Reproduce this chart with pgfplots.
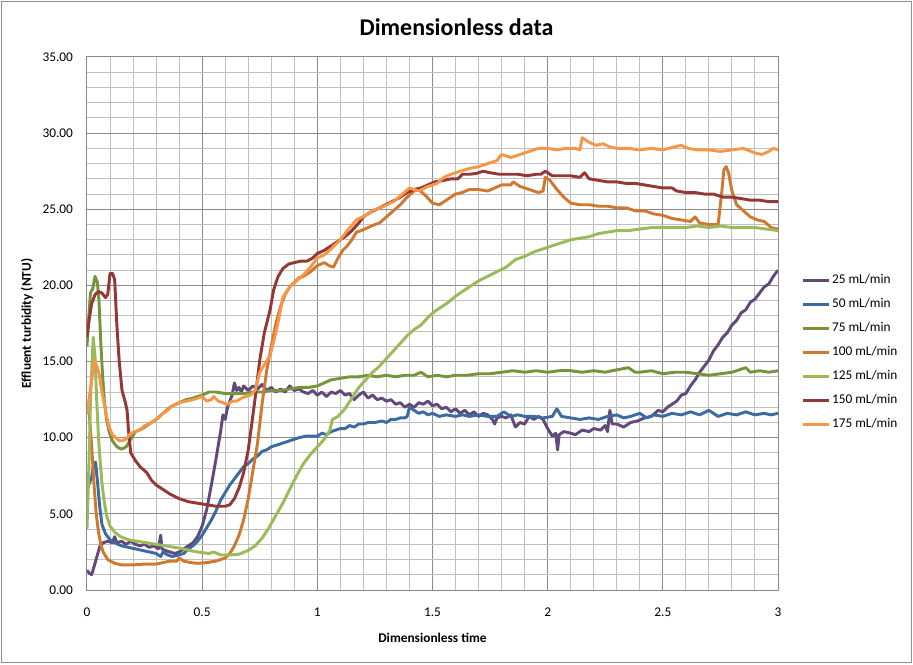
\documentclass[border=0pt]{standalone}
\usepackage{fontspec}
\setmainfont{Carlito}
\usepackage{pgfplots}
\pgfplotsset{compat=1.18}
\definecolor{c25}{HTML}{604A7B}
\definecolor{c50}{HTML}{3B6BA0}
\definecolor{c75}{HTML}{77933C}
\definecolor{c100}{HTML}{D0782F}
\definecolor{c125}{HTML}{9BBB59}
\definecolor{c150}{HTML}{953735}
\definecolor{c175}{HTML}{F79646}
\definecolor{gmaj}{HTML}{8A8A8A}
\definecolor{gmin}{HTML}{C0C0C0}
\definecolor{frame}{HTML}{8F8F8F}
\begin{document}
\begin{tikzpicture}[x=1pt,y=1pt]
\path[use as bounding box] (0,0) rectangle (684.75,498);
\draw[frame, line width=0.75pt] (1.2,1.2) rectangle (683.55,496.8);
\node[font=\bfseries\fontsize{18}{21}\selectfont] at (342.4,477.75) {Dimensionless data};
\begin{axis}[
  at={(65.25pt,55.5pt)}, anchor=south west,
  scale only axis, width=518.25pt, height=399.75pt,
  xmin=0, xmax=3, ymin=0, ymax=35,
  xtick={0,0.5,1,1.5,2,2.5,3},
  ytick={0,5,10,15,20,25,30,35},
  minor x tick num=4, minor y tick num=4,
  grid=both,
  major grid style={gmaj, line width=0.75pt},
  minor grid style={gmin, line width=0.75pt},
  axis line style={gmaj, line width=0.75pt},
  major tick length=0pt, minor tick length=0pt,
  /pgf/number format/assume math mode=true,
  ticklabel style={font=\fontsize{10}{12}\selectfont},
  yticklabel style={/pgf/number format/.cd, fixed, fixed zerofill, precision=2, /tikz/.cd, xshift=-7pt},
  xticklabel style={yshift=-10pt},
  xlabel={Dimensionless time},
  ylabel={Effluent turbidity (NTU)},
  label style={font=\bfseries\fontsize{10}{12}\selectfont},
  xlabel style={at={(axis description cs:0.5,-0.0891)}, anchor=center},
  ylabel style={at={(axis description cs:-0.0868,0.5)}, anchor=center, rotate=0},
  every axis plot/.append style={line width=2.2pt, line join=round, no markers},
  legend cell align=left,
  legend image code/.code={\draw[#1] (0pt,0pt) -- (19.5pt,0pt);},
  legend style={draw=none, fill=none, at={(rel axis cs:1.034,0.5954)}, anchor=north west,
    font=\fontsize{10}{12}\selectfont, row sep=7pt, column sep=0pt, inner sep=0pt,
    nodes={inner sep=1pt, text height=7pt, text depth=2pt}},
]
% 25 mL/min
\addplot[c25] coordinates {(0,1.3) (0.01,1.1) (0.02,1.0) (0.03,1.5) (0.045,2.3) (0.057,2.9) (0.07,3.1) (0.09,3.2) (0.11,3.1) (0.12,3.5) (0.13,3.1) (0.15,3.2) (0.17,3.0) (0.19,3.2) (0.21,3.0) (0.23,2.9) (0.25,3.0) (0.27,2.8) (0.29,2.9) (0.31,2.7) (0.32,3.6) (0.325,2.7) (0.34,2.6) (0.36,2.5) (0.38,2.4) (0.40,2.5) (0.42,2.7) (0.44,2.9) (0.46,3.1) (0.48,3.5) (0.50,4.2) (0.52,5.3) (0.54,6.9) (0.56,8.6) (0.58,10.4) (0.59,11.5) (0.60,11.2) (0.61,12.0) (0.62,12.4) (0.63,12.8) (0.64,13.6) (0.65,13.1) (0.66,13.3) (0.67,13.0) (0.68,13.4) (0.70,13.1) (0.72,13.4) (0.74,13.2) (0.76,13.5) (0.78,13.1) (0.80,13.3) (0.82,13.0) (0.84,13.2) (0.86,13.0) (0.88,13.4) (0.90,13.1) (0.92,13.2) (0.94,13.0) (0.96,12.9) (0.98,13.1) (1.00,12.8) (1.02,13.0) (1.04,12.7) (1.06,13.0) (1.08,12.9) (1.10,13.1) (1.12,12.8) (1.14,12.9) (1.16,12.5) (1.18,12.8) (1.20,13.0) (1.22,12.6) (1.24,12.8) (1.26,12.5) (1.28,12.6) (1.30,12.4) (1.32,12.5) (1.34,12.2) (1.36,12.3) (1.38,12.0) (1.40,12.2) (1.42,12.0) (1.44,12.3) (1.46,12.2) (1.48,12.4) (1.50,12.1) (1.52,12.2) (1.54,11.9) (1.56,12.0) (1.58,11.7) (1.60,11.9) (1.62,11.6) (1.64,11.8) (1.66,11.5) (1.68,11.7) (1.70,11.4) (1.72,11.6) (1.74,11.5) (1.76,11.2) (1.77,10.9) (1.78,11.3) (1.80,11.4) (1.82,11.3) (1.84,11.5) (1.86,10.7) (1.88,11.0) (1.90,10.9) (1.92,11.4) (1.94,11.2) (1.96,11.4) (1.98,11.2) (2.00,10.6) (2.02,10.1) (2.035,10.3) (2.043,9.2) (2.05,10.2) (2.07,10.4) (2.10,10.3) (2.12,10.2) (2.15,10.5) (2.18,10.4) (2.20,10.6) (2.23,10.5) (2.25,10.8) (2.26,10.4) (2.27,11.8) (2.28,10.9) (2.30,10.9) (2.33,10.7) (2.36,11.0) (2.39,11.1) (2.42,11.3) (2.45,11.4) (2.48,11.8) (2.50,11.7) (2.52,12.0) (2.54,12.2) (2.56,12.4) (2.58,12.8) (2.60,12.9) (2.62,13.4) (2.64,13.8) (2.66,14.3) (2.68,14.7) (2.70,15.1) (2.72,15.7) (2.74,16.1) (2.76,16.6) (2.78,16.9) (2.80,17.4) (2.82,17.7) (2.84,18.2) (2.86,18.4) (2.88,18.9) (2.90,19.1) (2.92,19.5) (2.94,19.9) (2.96,20.1) (2.98,20.6) (3.00,21.0)};
\addlegendentry{25 mL/min}
% 50 mL/min
\addplot[c50] coordinates {(0,6.5) (0.01,7.0) (0.02,7.4) (0.03,8.3) (0.037,8.4) (0.045,7.2) (0.055,5.5) (0.065,4.3) (0.08,3.7) (0.10,3.3) (0.12,3.1) (0.15,2.9) (0.18,2.8) (0.21,2.7) (0.24,2.6) (0.27,2.5) (0.30,2.4) (0.32,2.2) (0.33,2.5) (0.35,2.3) (0.37,2.2) (0.40,2.3) (0.42,2.4) (0.44,2.7) (0.46,2.9) (0.48,3.2) (0.50,3.6) (0.52,4.1) (0.54,4.6) (0.56,5.2) (0.58,5.9) (0.60,6.4) (0.62,6.9) (0.64,7.3) (0.66,7.7) (0.68,8.1) (0.70,8.3) (0.72,8.6) (0.74,8.8) (0.76,9.1) (0.78,9.2) (0.80,9.4) (0.82,9.5) (0.84,9.6) (0.86,9.7) (0.88,9.8) (0.90,9.9) (0.92,10.0) (0.95,10.1) (0.98,10.1) (1.00,10.1) (1.02,10.3) (1.04,10.2) (1.06,10.4) (1.08,10.5) (1.10,10.6) (1.12,10.6) (1.14,10.8) (1.16,10.7) (1.18,10.9) (1.20,10.9) (1.22,11.0) (1.25,11.0) (1.28,11.1) (1.30,11.0) (1.32,11.2) (1.34,11.2) (1.36,11.3) (1.38,11.3) (1.39,11.4) (1.40,12.0) (1.42,11.8) (1.44,11.6) (1.46,11.7) (1.48,11.5) (1.50,11.6) (1.53,11.4) (1.56,11.5) (1.60,11.4) (1.63,11.5) (1.66,11.4) (1.70,11.5) (1.74,11.4) (1.78,11.4) (1.81,11.7) (1.84,11.4) (1.87,11.5) (1.90,11.4) (1.94,11.4) (1.98,11.3) (2.02,11.4) (2.04,11.9) (2.06,11.4) (2.10,11.3) (2.14,11.2) (2.18,11.3) (2.22,11.2) (2.26,11.4) (2.30,11.5) (2.33,11.3) (2.36,11.4) (2.40,11.6) (2.43,11.3) (2.46,11.5) (2.50,11.4) (2.54,11.6) (2.58,11.5) (2.62,11.7) (2.66,11.5) (2.70,11.8) (2.74,11.4) (2.78,11.6) (2.82,11.5) (2.86,11.7) (2.90,11.5) (2.94,11.6) (2.97,11.5) (3.00,11.6)};
\addlegendentry{50 mL/min}
% 75 mL/min
\addplot[c75] coordinates {(0,16.0) (0.005,17.3) (0.015,19.5) (0.025,19.8) (0.035,20.6) (0.045,20.2) (0.052,19.0) (0.06,16.2) (0.068,14.0) (0.075,12.5) (0.085,11.2) (0.096,10.4) (0.11,9.8) (0.13,9.4) (0.15,9.25) (0.17,9.4) (0.19,9.9) (0.21,10.4) (0.24,10.6) (0.27,10.9) (0.30,11.2) (0.33,11.6) (0.36,12.0) (0.40,12.3) (0.43,12.5) (0.46,12.6) (0.50,12.8) (0.53,13.0) (0.56,13.0) (0.60,12.9) (0.64,12.9) (0.68,12.9) (0.72,13.0) (0.76,13.0) (0.80,13.1) (0.84,13.1) (0.88,13.2) (0.92,13.3) (0.96,13.3) (1.00,13.4) (1.03,13.6) (1.06,13.8) (1.10,13.9) (1.14,14.0) (1.18,14.0) (1.22,14.1) (1.26,14.0) (1.30,14.1) (1.34,14.0) (1.38,14.1) (1.42,14.1) (1.45,14.3) (1.48,14.0) (1.52,14.1) (1.56,14.0) (1.60,14.1) (1.65,14.1) (1.70,14.2) (1.75,14.2) (1.80,14.3) (1.85,14.4) (1.90,14.3) (1.95,14.4) (2.00,14.3) (2.05,14.4) (2.10,14.4) (2.15,14.3) (2.20,14.4) (2.25,14.3) (2.28,14.4) (2.35,14.6) (2.38,14.3) (2.40,14.3) (2.45,14.4) (2.50,14.2) (2.55,14.3) (2.60,14.3) (2.65,14.2) (2.70,14.1) (2.75,14.2) (2.80,14.3) (2.86,14.6) (2.88,14.3) (2.92,14.4) (2.96,14.3) (3.00,14.4)};
\addlegendentry{75 mL/min}
% 100 mL/min
\addplot[c100] coordinates {(0,12.0) (0.01,11.5) (0.02,9.5) (0.03,7.0) (0.04,5.0) (0.05,3.8) (0.06,3.0) (0.07,2.5) (0.09,2.0) (0.12,1.75) (0.15,1.65) (0.20,1.65) (0.25,1.7) (0.30,1.7) (0.33,1.8) (0.36,1.9) (0.39,1.9) (0.40,2.1) (0.42,1.9) (0.45,1.8) (0.48,1.75) (0.52,1.8) (0.56,1.9) (0.60,2.1) (0.62,2.4) (0.64,2.9) (0.66,3.6) (0.68,4.6) (0.70,6.0) (0.72,7.8) (0.74,9.6) (0.76,12.2) (0.78,14.4) (0.80,16.0) (0.82,17.5) (0.84,18.6) (0.86,19.4) (0.88,19.9) (0.90,20.2) (0.92,20.5) (0.94,20.6) (0.97,20.9) (1.00,21.3) (1.03,21.5) (1.05,21.3) (1.07,21.2) (1.09,21.8) (1.11,22.3) (1.13,22.6) (1.15,23.0) (1.17,23.5) (1.19,23.6) (1.22,23.8) (1.25,24.0) (1.27,24.1) (1.30,24.5) (1.33,24.9) (1.36,25.3) (1.39,25.8) (1.42,26.2) (1.44,26.3) (1.47,25.9) (1.50,25.4) (1.53,25.3) (1.56,25.6) (1.60,26.0) (1.63,26.1) (1.66,26.3) (1.70,26.3) (1.74,26.2) (1.77,26.4) (1.80,26.6) (1.84,26.6) (1.85,26.8) (1.88,26.5) (1.92,26.3) (1.96,26.1) (1.98,26.2) (1.99,27.1) (2.01,26.9) (2.04,26.3) (2.07,25.8) (2.10,25.4) (2.14,25.3) (2.18,25.3) (2.22,25.2) (2.26,25.2) (2.30,25.1) (2.34,25.1) (2.38,24.9) (2.42,24.9) (2.46,24.7) (2.50,24.6) (2.54,24.4) (2.58,24.3) (2.62,24.2) (2.64,24.5) (2.66,24.1) (2.70,24.0) (2.74,24.0) (2.755,26.0) (2.765,27.6) (2.775,27.8) (2.785,27.4) (2.80,26.2) (2.82,25.3) (2.85,24.9) (2.88,24.5) (2.91,24.3) (2.94,24.2) (2.97,23.8) (3.00,23.7)};
\addlegendentry{100 mL/min}
% 125 mL/min
\addplot[c125] coordinates {(0,4.0) (0.008,8.0) (0.016,12.9) (0.027,16.6) (0.035,15.3) (0.042,12.5) (0.05,10.0) (0.057,8.5) (0.065,7.0) (0.074,5.9) (0.085,4.9) (0.10,4.2) (0.12,3.8) (0.146,3.5) (0.18,3.3) (0.22,3.2) (0.26,3.1) (0.30,3.0) (0.34,2.9) (0.38,2.8) (0.42,2.7) (0.46,2.55) (0.50,2.45) (0.53,2.4) (0.55,2.5) (0.58,2.3) (0.62,2.3) (0.66,2.35) (0.70,2.6) (0.73,2.9) (0.76,3.4) (0.79,4.1) (0.82,4.9) (0.85,5.7) (0.88,6.6) (0.91,7.5) (0.94,8.3) (0.97,8.9) (1.00,9.4) (1.03,9.9) (1.055,10.5) (1.065,11.2) (1.09,11.4) (1.12,11.9) (1.15,12.6) (1.18,13.3) (1.21,13.8) (1.24,14.3) (1.27,14.7) (1.30,15.2) (1.33,15.7) (1.36,16.2) (1.39,16.7) (1.42,17.1) (1.45,17.4) (1.48,17.9) (1.51,18.3) (1.54,18.6) (1.57,18.9) (1.60,19.3) (1.63,19.6) (1.66,19.9) (1.70,20.3) (1.74,20.6) (1.78,20.9) (1.82,21.2) (1.86,21.7) (1.90,21.9) (1.94,22.2) (1.98,22.4) (2.02,22.6) (2.06,22.8) (2.10,23.0) (2.14,23.1) (2.18,23.2) (2.22,23.4) (2.26,23.5) (2.30,23.6) (2.35,23.6) (2.40,23.7) (2.45,23.8) (2.50,23.8) (2.55,23.8) (2.60,23.8) (2.65,23.9) (2.70,23.8) (2.75,23.9) (2.80,23.8) (2.85,23.8) (2.90,23.8) (2.95,23.7) (3.00,23.6)};
\addlegendentry{125 mL/min}
% 150 mL/min
\addplot[c150] coordinates {(0,16.6) (0.01,17.8) (0.02,18.8) (0.035,19.4) (0.05,19.6) (0.065,19.5) (0.08,19.2) (0.09,19.4) (0.10,20.8) (0.11,20.8) (0.12,20.4) (0.13,17.3) (0.14,15.0) (0.152,13.1) (0.165,12.4) (0.174,11.8) (0.18,10.5) (0.19,9.0) (0.21,8.5) (0.23,8.1) (0.26,7.7) (0.28,7.2) (0.30,6.9) (0.33,6.6) (0.36,6.3) (0.40,6.0) (0.44,5.8) (0.48,5.7) (0.52,5.6) (0.56,5.5) (0.60,5.5) (0.62,5.6) (0.64,6.0) (0.66,6.7) (0.68,7.7) (0.70,9.2) (0.71,10.3) (0.73,12.6) (0.75,15.1) (0.77,16.9) (0.795,18.4) (0.81,19.7) (0.83,20.6) (0.85,21.1) (0.875,21.4) (0.90,21.5) (0.93,21.6) (0.955,21.6) (0.98,21.8) (1.00,22.1) (1.03,22.3) (1.06,22.6) (1.09,22.9) (1.12,23.2) (1.15,23.6) (1.18,24.1) (1.20,24.5) (1.23,24.8) (1.27,25.1) (1.31,25.4) (1.35,25.7) (1.39,26.1) (1.42,26.3) (1.45,26.4) (1.48,26.6) (1.51,26.8) (1.55,26.9) (1.58,27.0) (1.61,27.0) (1.63,27.3) (1.66,27.3) (1.69,27.35) (1.72,27.5) (1.75,27.4) (1.79,27.3) (1.83,27.3) (1.87,27.3) (1.91,27.2) (1.95,27.3) (1.97,27.3) (1.99,27.5) (2.02,27.2) (2.06,27.2) (2.10,27.2) (2.14,27.1) (2.16,27.4) (2.18,27.0) (2.22,26.9) (2.26,26.8) (2.30,26.8) (2.34,26.7) (2.38,26.7) (2.42,26.6) (2.46,26.5) (2.50,26.4) (2.54,26.4) (2.56,26.2) (2.60,26.1) (2.64,26.1) (2.68,26.0) (2.72,26.0) (2.76,25.8) (2.80,25.8) (2.84,25.7) (2.88,25.6) (2.92,25.6) (2.96,25.5) (3.00,25.5)};
\addlegendentry{150 mL/min}
% 175 mL/min
\addplot[c175] coordinates {(0,11.6) (0.016,13.3) (0.033,15.1) (0.045,14.6) (0.052,14.2) (0.063,13.2) (0.074,12.3) (0.085,11.4) (0.096,10.7) (0.11,10.2) (0.125,10.0) (0.14,9.8) (0.152,9.8) (0.17,9.9) (0.19,10.3) (0.21,10.4) (0.23,10.5) (0.25,10.8) (0.27,10.9) (0.29,11.1) (0.31,11.3) (0.33,11.6) (0.35,11.8) (0.37,12.1) (0.40,12.3) (0.43,12.4) (0.46,12.5) (0.48,12.6) (0.50,12.7) (0.52,12.4) (0.54,12.5) (0.55,12.7) (0.57,12.4) (0.59,12.3) (0.61,12.2) (0.63,12.4) (0.65,12.4) (0.67,12.6) (0.69,12.7) (0.71,12.8) (0.73,13.1) (0.75,14.3) (0.77,14.8) (0.795,15.4) (0.81,16.3) (0.826,17.3) (0.85,19.2) (0.88,19.9) (0.91,20.3) (0.94,20.7) (0.97,21.2) (1.00,21.8) (1.03,22.0) (1.06,22.4) (1.10,23.0) (1.13,23.6) (1.17,24.3) (1.21,24.6) (1.245,24.95) (1.29,25.2) (1.33,25.5) (1.37,26.0) (1.40,26.4) (1.44,26.2) (1.48,26.5) (1.52,26.7) (1.55,27.1) (1.58,27.3) (1.62,27.5) (1.665,27.7) (1.70,27.8) (1.74,28.0) (1.78,28.2) (1.80,28.6) (1.84,28.4) (1.88,28.6) (1.92,28.8) (1.96,29.0) (2.00,29.0) (2.04,28.9) (2.08,29.0) (2.12,29.0) (2.14,28.9) (2.15,29.7) (2.18,29.4) (2.21,29.2) (2.24,29.3) (2.27,29.1) (2.30,29.0) (2.35,29.0) (2.40,28.9) (2.45,29.0) (2.50,28.9) (2.55,29.1) (2.58,29.2) (2.61,29.0) (2.65,28.9) (2.70,28.9) (2.75,28.8) (2.80,28.9) (2.85,29.0) (2.90,28.7) (2.93,28.6) (2.96,28.8) (2.98,29.0) (3.00,28.9)};
\addlegendentry{175 mL/min}
\end{axis}
\end{tikzpicture}
\end{document}
